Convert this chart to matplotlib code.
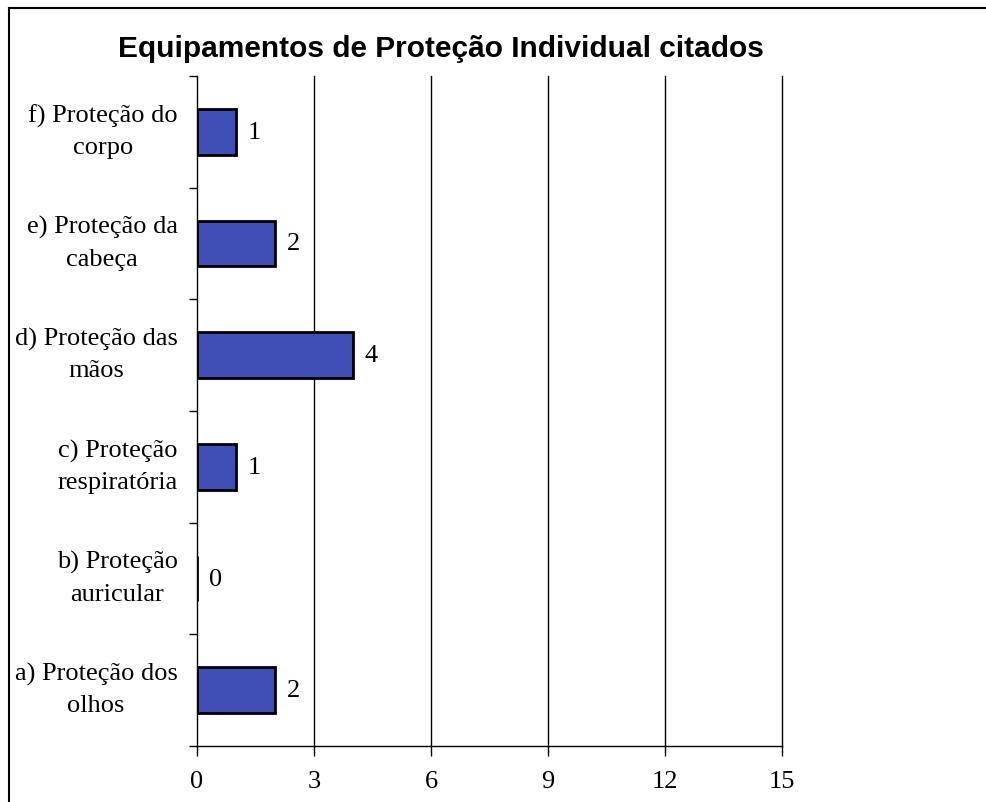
import matplotlib
matplotlib.use("Agg")
import matplotlib.pyplot as plt
import matplotlib.transforms as mtransforms
from matplotlib.lines import Line2D
import numpy as np

categories = ["a) Proteção dos\nolhos", "b) Proteção\nauricular", "c) Proteção\nrespiratória",
              "d) Proteção das\nmãos", "e) Proteção da\ncabeça", "f) Proteção do\ncorpo"]
values = [2, 0, 1, 4, 2, 1]
xticks = [0, 3, 6, 9, 12, 15]
title = "Equipamentos de Proteção Individual citados"

serif = ["Liberation Serif", "DejaVu Serif"]

fig = plt.figure(figsize=(9.87, 8.03), dpi=100)
fig.patch.set_facecolor("white")
ax = fig.add_axes([197/987, 1-747/803, (782-197)/987, (747-77)/803])

y = np.arange(len(categories))
ax.barh(y, values, height=0.41, color="#3F4FB5", edgecolor="black", linewidth=2, zorder=3)
for yi, v in zip(y, values):
    ax.text(v + 0.3, yi, str(v), va="center", ha="left", fontsize=19, family=serif, zorder=4)

ax.set_xlim(0, 15)
ax.set_ylim(-0.5, len(categories) - 0.5)
ax.set_xticks(xticks)
ax.set_xticklabels([str(t) for t in xticks], family=serif, fontsize=19)
ax.tick_params(axis="x", direction="out", length=7, width=1, pad=10, color="black")

ax.set_yticks(np.arange(-0.5, len(categories), 1.0))
ax.set_yticklabels([])
ax.tick_params(axis="y", which="major", direction="out", length=6, width=1)
ax.set_yticks(y, minor=True)
ax.set_yticklabels(categories, minor=True, family=serif, fontsize=19, ha="right",
                   multialignment="center", linespacing=1.55)
ax.tick_params(axis="y", which="minor", length=0, pad=14)
offset = mtransforms.ScaledTranslation(0, 6/72, fig.dpi_scale_trans)
for lab in ax.get_yticklabels(minor=True):
    lab.set_transform(lab.get_transform() + offset)

for t in xticks[1:]:
    ax.axvline(t, color="black", linewidth=1, zorder=1, clip_on=False)

ax.spines["top"].set_visible(False)
ax.spines["right"].set_visible(False)
ax.spines["left"].set_linewidth(1)
ax.spines["bottom"].set_linewidth(1)
ax.set_facecolor("white")

fig.text(441/987, 1-49/803, title, ha="center", va="center", fontsize=21.5,
         fontweight="bold", family=["Liberation Sans", "DejaVu Sans"])

fig.add_artist(Line2D([9/987, 1], [1-9/803, 1-9/803], color="black", linewidth=1.5,
                      transform=fig.transFigure))
fig.add_artist(Line2D([9/987, 9/987], [1-9/803, 0], color="black", linewidth=1.5,
                      transform=fig.transFigure))

fig.savefig("out.png", dpi=100, facecolor="white")
